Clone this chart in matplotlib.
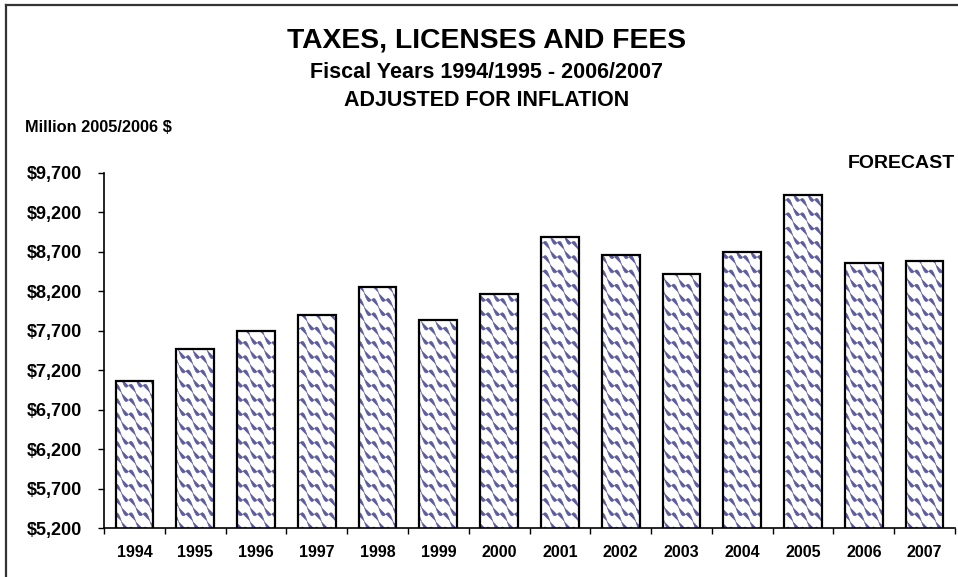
import warnings
import numpy as np
import matplotlib
matplotlib.use("Agg")
import matplotlib.pyplot as plt
import matplotlib.hatch as mhatch
from matplotlib.path import Path
from matplotlib.lines import Line2D
from matplotlib.ticker import FixedLocator, FuncFormatter

warnings.filterwarnings("ignore")

# ---------------- data ----------------
years = ["1994", "1995", "1996", "1997", "1998", "1999", "2000",
         "2001", "2002", "2003", "2004", "2005", "2006", "2007"]
values = [7060, 7470, 7700, 7900, 8255, 7840, 8170,
          8890, 8660, 8420, 8700, 9420, 8560, 8585]
yticks = [5200, 5700, 6200, 6700, 7200, 7700, 8200, 8700, 9200, 9700]

title = "TAXES, LICENSES AND FEES"
subtitle1 = "Fiscal Years 1994/1995 - 2006/2007"
subtitle2 = "ADJUSTED FOR INFLATION"
unit_label = "Million 2005/2006 $"
forecast_label = "FORECAST"


# ---------------- custom wavy hatch ----------------
class WaveHatch(mhatch.HatchPatternBase):
    def __init__(self, hatch, density):
        self.num_lines = int(hatch.count('~') * density * 1.2)
        self.seg = 80
        if self.num_lines:
            self.num_vertices = (2 * self.num_lines + 1) * (self.seg + 1)
        else:
            self.num_vertices = 0

    def set_vertices_and_codes(self, vertices, codes):
        n = self.num_lines
        t = np.linspace(0, 1, self.seg + 1)
        amp = 0.32 / n
        k = 0
        for i in range(2 * n + 1):
            c = i / n
            y = c - t + amp * np.sin(2 * np.pi * n * t)
            vertices[k:k + self.seg + 1, 0] = t
            vertices[k:k + self.seg + 1, 1] = y
            codes[k] = Path.MOVETO
            codes[k + 1:k + self.seg + 1] = Path.LINETO
            k += self.seg + 1


mhatch._hatch_types.append(WaveHatch)

plt.rcParams['font.family'] = ['Liberation Sans', 'DejaVu Sans']
plt.rcParams['hatch.linewidth'] = 0.45

fig = plt.figure(figsize=(9.58, 5.77), dpi=100)
ax = fig.add_axes([104 / 958, 1 - 528 / 577, (955 - 104) / 958, (528 - 173) / 577])

x = np.arange(len(years))
ax.bar(x, values, width=0.62, color='white', edgecolor='#5c5c9e',
       hatch='~', linewidth=0, zorder=2)
ax.bar(x, values, width=0.62, color='none', edgecolor='black', linewidth=1.6, zorder=3)

ax.set_xlim(-0.5, len(years) - 0.5)
ax.set_ylim(yticks[0], yticks[-1])
ax.set_yticks(yticks)
ax.yaxis.set_major_formatter(FuncFormatter(lambda v, p: "${:,.0f}".format(v)))
ax.set_xticks(x)
ax.set_xticklabels(years)
ax.xaxis.set_minor_locator(FixedLocator(np.arange(-0.5, len(years), 1.0)))

ax.tick_params(axis='y', which='major', direction='out', length=4, width=1,
               labelsize=13, pad=12)
ax.tick_params(axis='x', which='major', length=0, labelsize=11.5, pad=12)
ax.tick_params(axis='x', which='minor', direction='out', length=4, width=1)
for lab in ax.get_xticklabels() + ax.get_yticklabels():
    lab.set_fontweight('bold')

for s in ['top', 'right']:
    ax.spines[s].set_visible(False)
ax.spines['left'].set_linewidth(1.2)
ax.spines['bottom'].set_linewidth(1.2)

# titles
fig.text(487 / 958, 1 - 40 / 577, title, ha='center', va='center',
         fontsize=20.3, fontweight='bold')
fig.text(486 / 958, 1 - 72 / 577, subtitle1, ha='center', va='center',
         fontsize=15.5, fontweight='bold')
fig.text(487 / 958, 1 - 100 / 577, subtitle2, ha='center', va='center',
         fontsize=15.5, fontweight='bold')
fig.text(25 / 958, 1 - 128 / 577, unit_label, ha='left', va='center',
         fontsize=11.8, fontweight='bold')
fig.text(955 / 958, 1 - 163 / 577, forecast_label, ha='right', va='center',
         fontsize=14, fontweight='bold')

# partial outer frame (left and top edges)
fig.add_artist(Line2D([6 / 958, 6 / 958], [0, 1 - 5 / 577], transform=fig.transFigure,
                      color='#333333', linewidth=1.6))
fig.add_artist(Line2D([6 / 958, 1], [1 - 5 / 577, 1 - 5 / 577], transform=fig.transFigure,
                      color='#333333', linewidth=1.6))

fig.savefig("out.png", dpi=100)
